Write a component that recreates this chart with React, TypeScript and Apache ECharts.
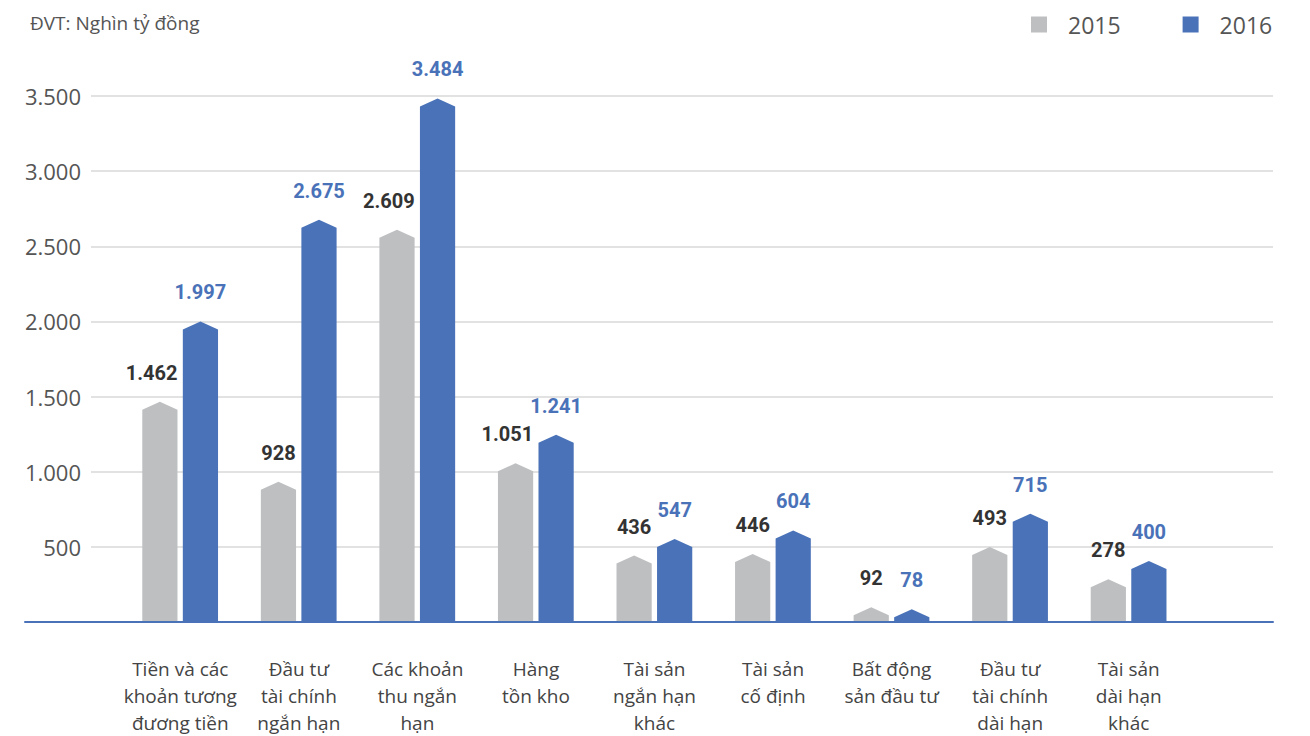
import React, { useEffect, useRef } from "react";
import * as echarts from "echarts";

const categories = [
  "Tiền và các\nkhoản tương\nđương tiền",
  "Đầu tư\ntài chính\nngắn hạn",
  "Các khoản\nthu ngắn\nhạn",
  "Hàng\ntồn kho",
  "Tài sản\nngắn hạn\nkhác",
  "Tài sản\ncố định",
  "Bất động\nsản đầu tư",
  "Đầu tư\ntài chính\ndài hạn",
  "Tài sản\ndài hạn\nkhác",
];
const values2015 = [1462, 928, 2609, 1051, 436, 446, 92, 493, 278];
const values2016 = [1997, 2675, 3484, 1241, 547, 604, 78, 715, 400];
const yTicks = [0, 500, 1000, 1500, 2000, 2500, 3000, 3500];
const unitLabel = "ĐVT: Nghìn tỷ đồng";

const GRAY = "#bebfc1";
const BLUE = "#4a72b8";
const LIGHT_FONT = "'Open Sans', 'Noto Sans', sans-serif";
const BOLD_FONT = "Roboto, 'Noto Sans', sans-serif";
const VALUE_FONT = `bold 20px ${BOLD_FONT}`;

const fmt = (v: number) => String(Math.round(v)).replace(/\B(?=(\d{3})+(?!\d))/g, ".");

let measureCtx: CanvasRenderingContext2D | null = null;
function textWidth(t: string) {
  if (!measureCtx) measureCtx = document.createElement("canvas").getContext("2d");
  if (!measureCtx) return t.length * 11;
  measureCtx.font = VALUE_FONT;
  return measureCtx.measureText(t).width;
}

function makeRender(offset: number, labelColor: string, fill: string, keepInside: boolean) {
  return (params: any, api: any) => {
    const cat = api.value(0);
    const v = api.value(1);
    const top = api.coord([cat, v]);
    const base = api.coord([cat, 0]);
    const band = api.size([1, 0])[0];
    const w = band * 0.297;
    const cx = top[0] + offset * band;
    const shoulder = Math.min(top[1] + 8, base[1]);
    const label = fmt(v);
    let lx = cx;
    if (keepInside) {
      const tw = textWidth(label);
      lx = Math.min(cx, cx + w / 2 - tw / 2);
    }
    return {
      type: "group",
      children: [
        {
          type: "polygon",
          shape: {
            points: [
              [cx - w / 2, base[1]],
              [cx - w / 2, shoulder],
              [cx, top[1]],
              [cx + w / 2, shoulder],
              [cx + w / 2, base[1]],
            ],
          },
          style: { fill },
        },
        {
          type: "text",
          x: lx,
          y: top[1] - 29,
          style: {
            text: label,
            fill: labelColor,
            font: VALUE_FONT,
            align: "center",
            verticalAlign: "middle",
          },
        },
      ],
    };
  };
}

export default function App() {
  const ref = useRef<HTMLDivElement>(null);
  useEffect(() => {
    document.body.style.margin = "0";
    const chart = echarts.init(ref.current!, undefined, { renderer: "svg" });
    const yBase = {
      type: "value" as const,
      min: 0,
      max: 3500,
      interval: 500,
    };
    const top = 96;
    const bottom = 114;
    chart.setOption({
      animation: false,
      backgroundColor: "#ffffff",
      title: {
        text: unitLabel,
        left: 25,
        top: 8,
        textStyle: { fontFamily: LIGHT_FONT, fontWeight: "normal", fontSize: 19, color: "#555555" },
      },
      legend: {
        left: 1031,
        top: 13,
        padding: 0,
        itemWidth: 16,
        itemHeight: 16,
        itemGap: 62,
        icon: "rect",
        data: ["2015", "2016"],
        textStyle: {
          fontFamily: LIGHT_FONT,
          fontSize: 23,
          color: "#555555",
          padding: [0, 0, 0, 16],
        },
      },
      grid: [
        { left: 25, right: 37, top, bottom },
        { left: 91, right: 37, top, bottom },
        { left: 121, right: 122, top, bottom },
      ],
      xAxis: [
        {
          gridIndex: 0,
          type: "value",
          min: 0,
          max: 1,
          axisLine: { show: true, onZero: false, lineStyle: { color: BLUE, width: 2 } },
          axisTick: { show: false },
          axisLabel: { show: false },
          splitLine: { show: false },
          z: 10,
        },
        {
          gridIndex: 1,
          type: "value",
          min: 0,
          max: 1,
          show: false,
        },
        {
          gridIndex: 2,
          type: "category",
          data: categories,
          axisLine: { show: false },
          axisTick: { show: false },
          axisLabel: {
            interval: 0,
            margin: 34,
            fontFamily: LIGHT_FONT,
            fontSize: 19,
            lineHeight: 27,
            color: "#444444",
            verticalAlign: "top",
          },
        },
      ],
      yAxis: [
        { ...yBase, gridIndex: 0, show: false },
        {
          ...yBase,
          gridIndex: 1,
          axisLine: { show: false },
          axisTick: { show: false },
          axisLabel: {
            margin: 10,
            fontFamily: LIGHT_FONT,
            fontSize: 22,
            color: "#555555",
            formatter: (v: number) => (v === 0 ? "" : fmt(v)),
            customValues: yTicks,
          },
          splitLine: { lineStyle: { color: "#d9d9d9", width: 1.5 } },
        },
        { ...yBase, gridIndex: 2, show: false },
      ],
      series: [
        {
          name: "2015",
          type: "custom",
          xAxisIndex: 2,
          yAxisIndex: 2,
          itemStyle: { color: GRAY },
          renderItem: makeRender(-0.172, "#333333", GRAY, true),
          data: values2015.map((v, i) => [i, v]),
          z: 5,
        },
        {
          name: "2016",
          type: "custom",
          xAxisIndex: 2,
          yAxisIndex: 2,
          itemStyle: { color: BLUE },
          renderItem: makeRender(0.17, BLUE, BLUE, false),
          data: values2016.map((v, i) => [i, v]),
          z: 5,
        },
      ],
    });
    return () => chart.dispose();
  }, []);
  return <div ref={ref} style={{ width: 1310, height: 736 }} />;
}
